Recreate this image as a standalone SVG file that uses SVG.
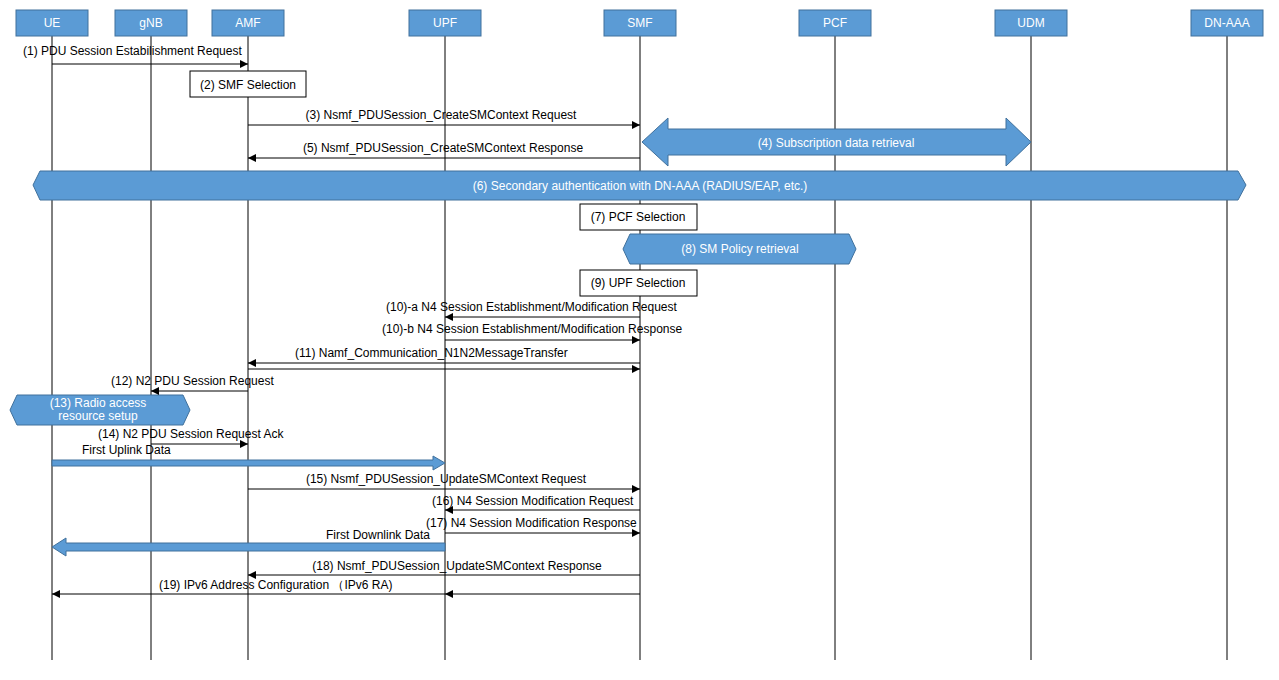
<svg xmlns="http://www.w3.org/2000/svg" width="1279" height="680" viewBox="0 0 1279 680">
<defs>
<marker id="a" markerWidth="8" markerHeight="8" refX="8" refY="4" orient="auto" markerUnits="userSpaceOnUse"><path d="M0,0 L8,4 L0,8 Z" fill="#000"/></marker>
<style>
text{font-family:"Liberation Sans",Arial,sans-serif;font-size:12px;fill:#000}
.h rect{fill:#5b9bd5;stroke:#41719c;stroke-width:1}
.h text,.w{fill:#fff;text-anchor:middle}
.life{stroke:#000;stroke-width:1}
.m{stroke:#000;stroke-width:1;marker-end:url(#a)}
.b{fill:#fff;stroke:#000}
.band{fill:#5b9bd5;stroke:#41719c}
.c{text-anchor:middle}
</style>
</defs>
<rect width="1279" height="680" fill="#fff"/>
<g id="lifelines">
<line class="life" x1="52" y1="36" x2="52" y2="660"/>
<line class="life" x1="151" y1="36" x2="151" y2="660"/>
<line class="life" x1="248" y1="36" x2="248" y2="660"/>
<line class="life" x1="445" y1="36" x2="445" y2="660"/>
<line class="life" x1="640" y1="36" x2="640" y2="660"/>
<line class="life" x1="835" y1="36" x2="835" y2="660"/>
<line class="life" x1="1031" y1="36" x2="1031" y2="660"/>
<line class="life" x1="1227" y1="36" x2="1227" y2="660"/>
</g>
<g id="UE" class="h"><rect x="16" y="10" width="72" height="26"/><text x="52" y="27">UE</text></g>
<g id="gNB" class="h"><rect x="115" y="10" width="72" height="26"/><text x="151" y="27">gNB</text></g>
<g id="AMF" class="h"><rect x="212" y="10" width="72" height="26"/><text x="248" y="27">AMF</text></g>
<g id="UPF" class="h"><rect x="409" y="10" width="72" height="26"/><text x="445" y="27">UPF</text></g>
<g id="SMF" class="h"><rect x="604" y="10" width="72" height="26"/><text x="640" y="27">SMF</text></g>
<g id="PCF" class="h"><rect x="799" y="10" width="72" height="26"/><text x="835" y="27">PCF</text></g>
<g id="UDM" class="h"><rect x="995" y="10" width="72" height="26"/><text x="1031" y="27">UDM</text></g>
<g id="DN-AAA" class="h"><rect x="1191" y="10" width="72" height="26"/><text x="1227" y="27">DN-AAA</text></g>

<g id="step2"><rect class="b" x="190" y="71" width="116" height="26"/><text class="c" x="248" y="89">(2) SMF Selection</text></g>
<g id="step4"><path class="band" d="M642,142 L668,118 L668,129 L1006,129 L1006,118 L1031,142 L1006,166 L1006,155 L668,155 L668,166 Z"/><text class="w" x="836" y="147">(4) Subscription data retrieval</text></g>
<g id="step6"><path class="band" d="M33,185 L40,171 L1238,171 L1246,185 L1238,200 L40,200 Z"/><text class="w" x="640" y="190">(6) Secondary authentication with DN-AAA (RADIUS/EAP, etc.)</text></g>
<g id="step7"><rect class="b" x="580" y="204" width="117" height="26"/><text class="c" x="638" y="221">(7) PCF Selection</text></g>
<g id="step8"><path class="band" d="M623,249 L630,234 L849,234 L856,249 L849,264 L630,264 Z"/><text class="w" x="740" y="253">(8) SM Policy retrieval</text></g>
<g id="step9"><rect class="b" x="580" y="270" width="117" height="26"/><text class="c" x="638" y="287">(9) UPF Selection</text></g>
<g id="step13"><path class="band" d="M10,410 L17,395 L183,395 L190,410 L183,425 L17,425 Z"/><text class="w" x="98" y="407">(13) Radio access</text><text class="w" x="98" y="420">resource setup</text></g>

<g id="connectors">
<line class="m" x1="52" y1="64" x2="248" y2="64"/>
<line class="m" x1="248" y1="125" x2="640" y2="125"/>
<line class="m" x1="640" y1="158" x2="248" y2="158"/>
<line class="m" x1="640" y1="317" x2="445" y2="317"/>
<line class="m" x1="445" y1="340" x2="640" y2="340"/>
<line class="m" x1="640" y1="363" x2="248" y2="363"/>
<line class="m" x1="248" y1="369" x2="640" y2="369"/>
<line class="m" x1="248" y1="391" x2="151" y2="391"/>
<line class="m" x1="151" y1="444" x2="248" y2="444"/>
<path d="M52,460 L433,460 L433,456 L445,463 L433,470 L433,466 L52,466 Z" fill="#5b9bd5" stroke="#41719c"/>
<line class="m" x1="248" y1="489" x2="640" y2="489"/>
<line class="m" x1="640" y1="510" x2="445" y2="510"/>
<line class="m" x1="445" y1="533" x2="640" y2="533"/>
<path d="M445,543 L66,543 L66,538 L52,547 L66,556 L66,551 L445,551 Z" fill="#5b9bd5" stroke="#41719c"/>
<line class="m" x1="640" y1="575" x2="248" y2="575"/>
<line class="m" x1="640" y1="594" x2="445" y2="594"/>
<line class="m" x1="445" y1="594" x2="52" y2="594"/>
</g>
<g id="labels">
<text x="23" y="55">(1) PDU Session Estabilishment Request</text>
<text class="c" x="441" y="119">(3) Nsmf_PDUSession_CreateSMContext  Request</text>
<text class="c" x="443" y="152">(5) Nsmf_PDUSession_CreateSMContext  Response</text>
<text x="386" y="311">(10)-a  N4 Session Establishment/Modification Request</text>
<text x="382" y="333">(10)-b  N4 Session Establishment/Modification Response</text>
<text x="295" y="357">(11) Namf_Communication_N1N2MessageTransfer</text>
<text x="111" y="385">(12) N2 PDU Session Request</text>
<text x="98" y="438">(14) N2 PDU Session Request Ack</text>
<text x="82" y="454">First Uplink Data</text>
<text class="c" x="446" y="483">(15) Nsmf_PDUSession_UpdateSMContext  Request</text>
<text x="432" y="505">(16) N4 Session Modification Request</text>
<text x="426" y="527">(17) N4 Session Modification Response</text>
<text x="326" y="539">First Downlink Data</text>
<text class="c" x="457" y="570">(18) Nsmf_PDUSession_UpdateSMContext  Response</text>
<text x="159" y="589">(19) IPv6 Address Configuration  （IPv6 RA)</text>
</g>
</svg>
